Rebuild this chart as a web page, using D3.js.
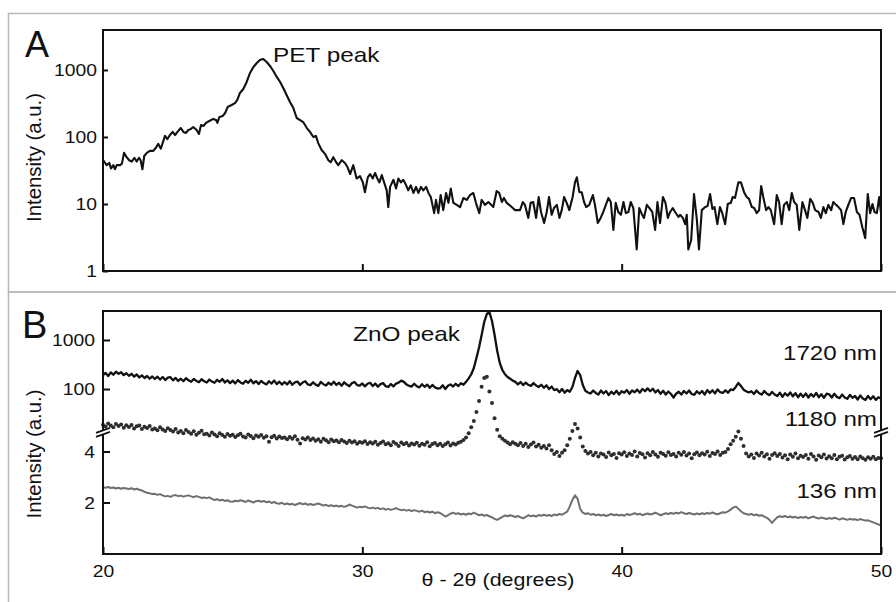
<!DOCTYPE html>
<html><head><meta charset="utf-8">
<script src="https://cdn.jsdelivr.net/npm/d3@7"></script>
<style>body{margin:0;background:#fff}</style>
</head><body><svg id="c" width="896" height="602"></svg>
<script>
// ---------- DATA ----------
// Panel A: PET substrate scan (angle in degrees, intensity a.u.)
const thetaA = [
20.01,20.14,20.24,20.31,20.40,20.46,20.53,20.66,20.73,20.81,20.91,21.01,21.11,21.21,21.30,21.39,21.45,21.52,21.59,21.69,
21.81,21.94,22.04,22.13,22.23,22.30,22.39,22.48,22.58,22.69,22.78,22.87,23.00,23.10,23.20,23.29,23.38,23.48,23.61,23.70,
23.78,23.87,23.97,24.10,24.25,24.36,24.41,24.49,24.62,24.71,24.81,24.96,25.09,25.18,25.28,25.41,25.54,25.67,25.80,25.93,
26.05,26.18,26.31,26.44,26.57,26.70,26.83,26.95,27.08,27.21,27.34,27.47,27.60,27.72,27.86,27.98,28.11,28.21,28.30,28.43,
28.56,28.69,28.78,28.88,28.99,29.07,29.21,29.33,29.42,29.53,29.65,29.78,29.91,30.02,30.10,30.21,30.30,30.40,30.49,30.58,
30.66,30.75,30.84,30.94,31.00,31.07,31.20,31.30,31.39,31.49,31.58,31.69,31.77,31.87,31.97,32.07,32.16,32.26,32.35,32.46,
32.55,32.64,32.77,32.84,32.93,33.02,33.12,33.23,33.32,33.41,33.51,33.64,33.77,33.90,34.03,34.15,34.28,34.38,34.51,34.60,
34.73,34.86,35.05,35.18,35.28,35.38,35.46,35.57,35.76,35.89,36.08,36.19,36.27,36.40,36.49,36.59,36.70,36.80,36.89,37.01,
37.11,37.20,37.30,37.39,37.50,37.60,37.69,37.78,37.88,37.98,38.11,38.20,38.27,38.37,38.46,38.55,38.63,38.75,38.89,38.97,
39.08,39.19,39.29,39.49,39.58,39.68,39.77,39.87,39.97,40.07,40.16,40.26,40.35,40.45,40.58,40.68,40.79,40.86,40.97,41.07,
41.18,41.29,41.38,41.48,41.59,41.69,41.78,41.87,41.97,42.06,42.19,42.25,42.36,42.45,42.51,42.57,42.68,42.79,42.90,42.98,
43.09,43.22,43.31,43.41,43.50,43.58,43.69,43.79,43.88,43.99,44.09,44.21,44.28,44.37,44.50,44.60,44.72,44.82,44.91,45.02,
45.11,45.21,45.30,45.38,45.46,45.57,45.66,45.75,45.88,45.98,46.07,46.17,46.26,46.37,46.46,46.56,46.65,46.75,46.85,46.97,
47.07,47.16,47.27,47.37,47.46,47.59,47.68,47.78,47.87,47.97,48.08,48.16,48.27,48.36,48.46,48.55,48.64,48.74,48.85,48.96,
49.07,49.17,49.28,49.39,49.49,49.58,49.67,49.75,49.84,49.93,50.00];
const intensityA = [
45,38,41,34,38,33,38,38,40,58,50,45,43,49,43,49,45,33,52,58,
62,62,69,79,67,81,104,93,107,119,107,119,136,119,115,127,131,141,127,111,
151,146,162,173,186,179,162,199,206,228,281,300,320,357,454,520,662,902,1109,1271,
1409,1459,1316,1148,966,787,662,539,424,333,270,192,179,167,136,119,100,104,81,64,
56,45,42,50,42,38,45,41,36,28,38,24,26,21,15,25,28,24,29,24,
21,27,21,16,9.0,18,23,17,24,21,23,19,16,19,14.6,18,14.6,18,16,18,
14.6,12.7,7.3,11.5,7.3,13.6,8.1,14.6,10.4,17,10.4,9.7,9.0,12.3,11.5,13.6,14.6,10.4,7.3,11.5,
9.7,10.7,9.0,15.6,14.6,10.7,12.3,10.4,9.0,8.1,8.1,10.7,9.7,6.2,10.4,10.7,6.2,12.7,7.6,5.2,
7.6,12.7,6.9,8.7,9.7,6.2,8.1,12.7,10.4,8.1,12.7,21,25,15,15,10.7,9.0,9.7,13.6,9.7,
5.2,6.2,7.6,12.3,10.7,4.1,10.4,7.6,6.9,10.7,7.3,7.6,10.7,8.7,2.1,8.7,6.9,6.2,9.7,8.7,
7.6,4.1,10.7,5.2,12.7,10.4,6.2,7.6,8.7,7.6,6.4,6.9,6.2,5.0,6.9,2.1,2.9,14.1,5.8,2.1,
8.1,9.0,9.3,14.1,8.4,9.0,5.0,9.0,7.3,5.0,10,10.4,12.7,12.3,21,21,15,12.7,11.9,9.0,
8.7,7.3,8.1,18.6,12.7,8.1,9.0,8.1,5.0,13.6,10.7,5.0,9.7,10.7,8.1,14.6,10.7,9.7,4.1,10.7,
8.1,6.2,11.9,10.4,8.1,7.6,6.2,9.0,7.3,9.7,8.1,10.7,9.7,9.0,8.1,5.0,7.6,9.7,12.3,12.3,
7.6,6.9,4.5,3.1,14.1,7.3,10,7.6,7.3,12.7,7.3];

// Panel B: ZnO films, scan grid 20.0 .. 50.0 deg in 0.1 deg steps
const thetaB = d3.range(301).map(i => +(20 + i * 0.1).toFixed(1));
const i1720 = [
193,212,184,218,196,226,204,220,192,210,
186,204,178,198,172,190,168,184,162,180,
160,178,156,176,152,170,174,150,168,146,
162,144,166,150,140,160,146,138,158,144,
136,156,142,134,154,140,160,136,150,132,
148,130,152,136,128,147,134,154,131,145,
126,146,132,124,144,129,149,126,141,123,
139,124,144,122,137,142,121,136,144,124,
120,137,123,116,139,125,118,135,122,140,
121,134,116,137,123,114,132,139,120,117,
130,113,128,134,115,129,111,126,132,114,
110,126,113,129,135,148,140,124,116,112,
128,114,108,125,111,123,106,121,108,102,
104,119,100,116,124,112,128,115,131,122,
140,165,200,268,429,700,1265,2330,3390,3725,
2440,1265,600,340,244,200,176,162,148,140,
124,139,120,135,122,116,132,118,110,122,
106,119,100,112,95,99,86,100,84,95,
88,110,168,233,193,121,92,85,81,93,
83,77,93,81,91,75,88,79,92,77,
90,84,95,80,93,86,97,84,100,90,
103,90,101,85,95,80,92,77,89,79,
67,80,88,77,91,81,93,79,76,90,
80,91,77,95,83,94,81,98,86,83,
94,84,98,95,110,133,115,97,90,85,
90,79,93,82,77,91,80,75,87,77,
72,84,69,82,73,85,71,82,68,80,
69,81,67,79,70,83,68,78,66,80,
78,67,80,69,65,77,67,63,76,66,
72,61,74,64,60,72,62,71,60,68,
64];
const i1180 = [
5.05,4.98,5.10,5.02,4.95,5.08,5.00,5.06,4.93,5.03,
4.96,5.04,4.90,4.99,5.02,4.88,4.97,4.92,5.00,4.86,
4.90,4.83,4.95,4.86,4.80,4.91,4.84,4.78,4.88,4.75,
4.80,4.72,4.84,4.76,4.70,4.79,4.66,4.74,4.81,4.68,
4.70,4.63,4.75,4.67,4.60,4.72,4.65,4.58,4.69,4.62,
4.66,4.57,4.64,4.70,4.59,4.55,4.67,4.61,4.52,4.63,
4.58,4.65,4.54,4.60,4.38,4.56,4.62,4.51,4.59,4.53,
4.55,4.48,4.57,4.50,4.60,4.46,4.31,4.52,4.47,4.55,
4.45,4.51,4.42,4.48,4.38,4.50,4.44,4.36,4.47,4.40,
4.43,4.36,4.45,4.39,4.33,4.42,4.35,4.40,4.30,4.37,
4.34,4.40,4.29,4.36,4.31,4.38,4.26,4.33,4.39,4.28,
4.32,4.25,4.37,4.30,4.22,4.35,4.28,4.33,4.24,4.31,
4.27,4.34,4.23,4.30,4.26,4.36,4.21,4.29,4.33,4.25,
4.30,4.22,4.28,4.35,4.24,4.31,4.27,4.34,4.38,4.45,
4.55,4.72,4.95,5.20,5.55,5.98,6.54,6.88,6.93,6.35,
5.90,5.30,4.85,4.60,4.50,4.42,4.35,4.28,4.36,4.30,
4.25,4.33,4.22,4.30,4.18,4.27,4.35,4.20,4.26,4.15,
4.22,4.12,4.25,4.05,3.90,3.98,3.82,3.95,4.05,4.25,
4.50,4.80,5.08,4.90,4.55,4.20,4.02,3.92,3.98,3.85,
3.95,3.80,3.92,3.88,3.78,3.96,3.85,3.90,3.75,3.93,
3.88,3.97,3.82,3.92,3.86,4.00,3.80,3.94,3.89,3.76,
3.93,3.85,3.98,3.88,3.79,3.95,3.90,3.83,3.97,3.86,
3.90,3.80,3.95,3.87,3.98,3.84,3.92,3.74,3.89,3.96,
3.85,3.93,3.88,3.99,3.82,3.94,3.90,4.00,3.86,3.95,
3.98,4.10,4.28,4.42,4.58,4.78,4.50,4.22,3.92,3.80,
3.88,3.75,3.92,3.84,3.95,3.80,3.89,3.72,3.86,3.93,
3.82,3.90,3.76,3.85,3.70,3.88,3.79,3.92,3.74,3.83,
3.78,3.86,3.72,3.90,3.80,3.68,3.84,3.77,3.88,3.73,
3.81,3.74,3.86,3.70,3.79,3.83,3.69,3.77,3.82,3.72,
3.78,3.70,3.80,3.74,3.68,3.77,3.72,3.79,3.70,3.75,
3.74];
const i136 = [
2.60,2.58,2.61,2.57,2.59,2.55,2.58,2.54,2.57,2.55,
2.53,2.56,2.51,2.54,2.50,2.47,2.42,2.38,2.36,2.33,
2.34,2.30,2.33,2.28,2.24,2.26,2.22,2.27,2.29,2.25,
2.27,2.23,2.26,2.28,2.24,2.21,2.25,2.22,2.18,2.20,
2.17,2.20,2.14,2.10,2.13,2.08,2.11,2.06,2.09,2.04,
2.03,2.07,2.05,2.09,2.06,2.02,2.08,2.04,2.00,2.05,
2.07,2.03,2.06,2.01,2.04,1.98,2.02,1.97,1.95,1.99,
1.93,1.96,1.92,1.95,1.90,1.94,1.98,1.93,1.96,1.91,
1.94,1.90,1.93,1.96,1.92,1.88,1.91,1.86,1.89,1.85,
1.88,1.84,1.87,1.83,1.86,1.92,1.88,1.84,1.80,1.83,
1.81,1.85,1.80,1.77,1.80,1.76,1.79,1.74,1.77,1.72,
1.75,1.71,1.74,1.78,1.73,1.70,1.72,1.68,1.71,1.66,
1.70,1.67,1.64,1.68,1.62,1.65,1.61,1.64,1.58,1.62,
1.59,1.52,1.45,1.50,1.56,1.60,1.55,1.58,1.53,1.56,
1.52,1.57,1.54,1.60,1.55,1.50,1.53,1.48,1.51,1.46,
1.42,1.36,1.32,1.38,1.44,1.49,1.46,1.50,1.47,1.43,
1.47,1.42,1.38,1.44,1.50,1.46,1.49,1.45,1.51,1.48,
1.52,1.48,1.51,1.47,1.53,1.50,1.55,1.52,1.58,1.64,
1.85,2.10,2.28,2.15,1.75,1.60,1.55,1.58,1.52,1.55,
1.50,1.53,1.49,1.52,1.47,1.51,1.55,1.50,1.53,1.49,
1.52,1.48,1.55,1.51,1.54,1.58,1.53,1.56,1.50,1.54,
1.57,1.53,1.56,1.60,1.55,1.50,1.54,1.58,1.55,1.59,
1.56,1.60,1.57,1.62,1.58,1.55,1.59,1.56,1.53,1.57,
1.54,1.58,1.55,1.59,1.56,1.61,1.57,1.54,1.58,1.62,
1.60,1.65,1.72,1.80,1.84,1.75,1.66,1.58,1.55,1.52,
1.55,1.50,1.53,1.48,1.50,1.45,1.40,1.32,1.20,1.32,
1.42,1.46,1.43,1.47,1.42,1.45,1.41,1.44,1.39,1.43,
1.40,1.44,1.38,1.42,1.45,1.40,1.37,1.41,1.38,1.35,
1.39,1.36,1.40,1.37,1.33,1.38,1.35,1.32,1.36,1.33,
1.34,1.31,1.35,1.32,1.29,1.30,1.26,1.22,1.18,1.14,
1.10];

const xTicks = [20, 30, 40, 50];
const yTicksA = [1, 10, 100, 1000];
const yTicksBLog = [100, 1000];
const yTicksBLin = [2, 4];
const breakValue = 4.75;   // where the linear part of panel B meets the log part
const seriesLabels = ["1720 nm", "1180 nm", "136 nm"];

// ---------- LAYOUT ----------
const FONT = "'Liberation Sans', Arial, Helvetica, sans-serif";
const INK = "#111";
const L = 103, R = 881;
const A = {top: 30, bottom: 271};
const B = {top: 311, bottom: 554};
const svg = d3.select("#c").style("font-family", FONT);

const xA = d3.scaleLinear([20, 50], [L, R]);
const xB = d3.scaleLinear([20, 50], [L, R]);
const yA = d3.scaleLog([1, 3950], [A.bottom, A.top]);
const yBLog = d3.scaleLog([100, 1000], [389, 340]);
const yBLin = d3.scaleLinear([2, 4], [502.5, 451.5]);

function stretch(sel, k) {
  sel.each(function () {
    const w = this.getComputedTextLength();
    this.setAttribute("textLength", (w * k).toFixed(1));
    this.setAttribute("lengthAdjust", "spacingAndGlyphs");
  });
}

// outer panel borders
svg.append("rect").attr("x", 8.5).attr("y", 13.5).attr("width", 900).attr("height", 278.5)
  .attr("fill", "none").attr("stroke", "#b8b8b8").attr("stroke-width", 1.5);
svg.append("rect").attr("x", 8.5).attr("y", 292).attr("width", 900).attr("height", 330)
  .attr("fill", "none").attr("stroke", "#b8b8b8").attr("stroke-width", 1.5);

// ---------- PANEL A ----------
const gA = svg.append("g");
gA.append("path")
  .datum(thetaA.map((t, i) => [t, intensityA[i]]))
  .attr("fill", "none").attr("stroke", INK).attr("stroke-width", 2.1).attr("stroke-linejoin", "round")
  .attr("d", d3.line().x(d => xA(d[0])).y(d => yA(d[1])));

const axA = gA.append("g").attr("transform", `translate(${L},0)`)
  .call(d3.axisLeft(yA).tickValues(yTicksA).tickFormat(d3.format("d")).tickSize(-5).tickPadding(6));
const axAx = gA.append("g").attr("transform", `translate(0,${A.bottom})`)
  .call(d3.axisBottom(xA).tickValues(xTicks).tickFormat("").tickSize(-7));
[axA, axAx].forEach(g => {
  g.select(".domain").remove();
  g.selectAll("line").attr("stroke", INK).attr("stroke-width", 2);
});
axA.selectAll("text").attr("font-size", 16.5).attr("fill", INK).attr("font-family", FONT).attr("dy", "0.36em");
stretch(axA.selectAll("text"), 1.17);

gA.append("rect").attr("x", L).attr("y", A.top).attr("width", R - L).attr("height", A.bottom - A.top)
  .attr("fill", "none").attr("stroke", INK).attr("stroke-width", 2);

// ---------- PANEL B ----------
const gB = svg.append("g");
gB.append("path")
  .datum(thetaB.map((t, i) => [t, i136[i]]))
  .attr("fill", "none").attr("stroke", "#6f6f6f").attr("stroke-width", 2).attr("stroke-linejoin", "round")
  .attr("d", d3.line().x(d => xB(d[0])).y(d => yBLin(d[1])));
gB.append("g").selectAll("circle")
  .data(thetaB.map((t, i) => [t, i1180[i]]))
  .join("circle")
  .attr("cx", d => xB(d[0])).attr("cy", d => yBLin(d[1])).attr("r", 2).attr("fill", "#2e2e2e");
gB.append("path")
  .datum(thetaB.map((t, i) => [t, i1720[i]]))
  .attr("fill", "none").attr("stroke", INK).attr("stroke-width", 2.3).attr("stroke-linejoin", "round")
  .attr("d", d3.line().x(d => xB(d[0])).y(d => yBLog(d[1])));

const axBLog = gB.append("g").attr("transform", `translate(${L},0)`)
  .call(d3.axisLeft(yBLog).tickValues(yTicksBLog).tickFormat(d3.format("d")).tickSize(-7).tickPadding(8));
const axBLin = gB.append("g").attr("transform", `translate(${L},0)`)
  .call(d3.axisLeft(yBLin).tickValues(yTicksBLin).tickFormat(d3.format("d")).tickSize(-7).tickPadding(8));
const axBx = gB.append("g").attr("transform", `translate(0,${B.bottom})`)
  .call(d3.axisBottom(xB).tickValues(xTicks).tickFormat(d3.format("d")).tickSize(-7).tickPadding(11));
[axBLog, axBLin, axBx].forEach(g => {
  g.select(".domain").remove();
  g.selectAll("line").attr("stroke", INK).attr("stroke-width", 2);
  g.selectAll("text").attr("font-size", 16.5).attr("fill", INK).attr("font-family", FONT);
});
axBLog.selectAll("text").attr("dy", "0.36em");
axBLin.selectAll("text").attr("dy", "0.36em");
[axBLog, axBLin, axBx].forEach(g => stretch(g.selectAll("text"), 1.17));

gB.append("rect").attr("x", L).attr("y", B.top).attr("width", R - L).attr("height", B.bottom - B.top)
  .attr("fill", "none").attr("stroke", INK).attr("stroke-width", 2);

// axis break marks
const yBreak = yBLin(breakValue);
[L, R].forEach(x => {
  const g = gB.append("g").attr("transform", `translate(${x},${yBreak})`);
  g.append("rect").attr("x", -3).attr("y", -2).attr("width", 6).attr("height", 4).attr("fill", "#fff");
  g.append("line").attr("x1", -7).attr("y1", 0.5).attr("x2", 7).attr("y2", -4.5)
    .attr("stroke", INK).attr("stroke-width", 1.6);
  g.append("line").attr("x1", -7).attr("y1", 4.5).attr("x2", 7).attr("y2", -0.5)
    .attr("stroke", INK).attr("stroke-width", 1.6);
});

// ---------- TEXT ----------
function txt(x, y, s, size, anchor, k) {
  const t = svg.append("text").attr("x", x).attr("y", y).attr("font-size", size)
    .attr("fill", INK).attr("text-anchor", anchor || "start").text(s);
  if (k) stretch(t, k);
  return t;
}
txt(25, 57, "A", 36);
txt(22, 338, "B", 38);
txt(273, 62, "PET peak", 21, "start", 1.16);
txt(353, 341, "ZnO peak", 21, "start", 1.16);
txt(877, 360, seriesLabels[0], 21, "end", 1.15);
txt(877, 425.5, seriesLabels[1], 21, "end", 1.15);
txt(877, 498, seriesLabels[2], 21, "end", 1.15);
txt(498, 586, "θ - 2θ (degrees)", 19, "middle", 1.13);

[[157.5], [454]].forEach(([cy]) => {
  const t = svg.append("text").attr("transform", `translate(41,${cy}) rotate(-90)`)
    .attr("font-size", 20).attr("fill", INK).attr("text-anchor", "middle").text("Intensity (a.u.)");
  t.attr("textLength", 129).attr("lengthAdjust", "spacingAndGlyphs");
});
</script>
</body></html>
